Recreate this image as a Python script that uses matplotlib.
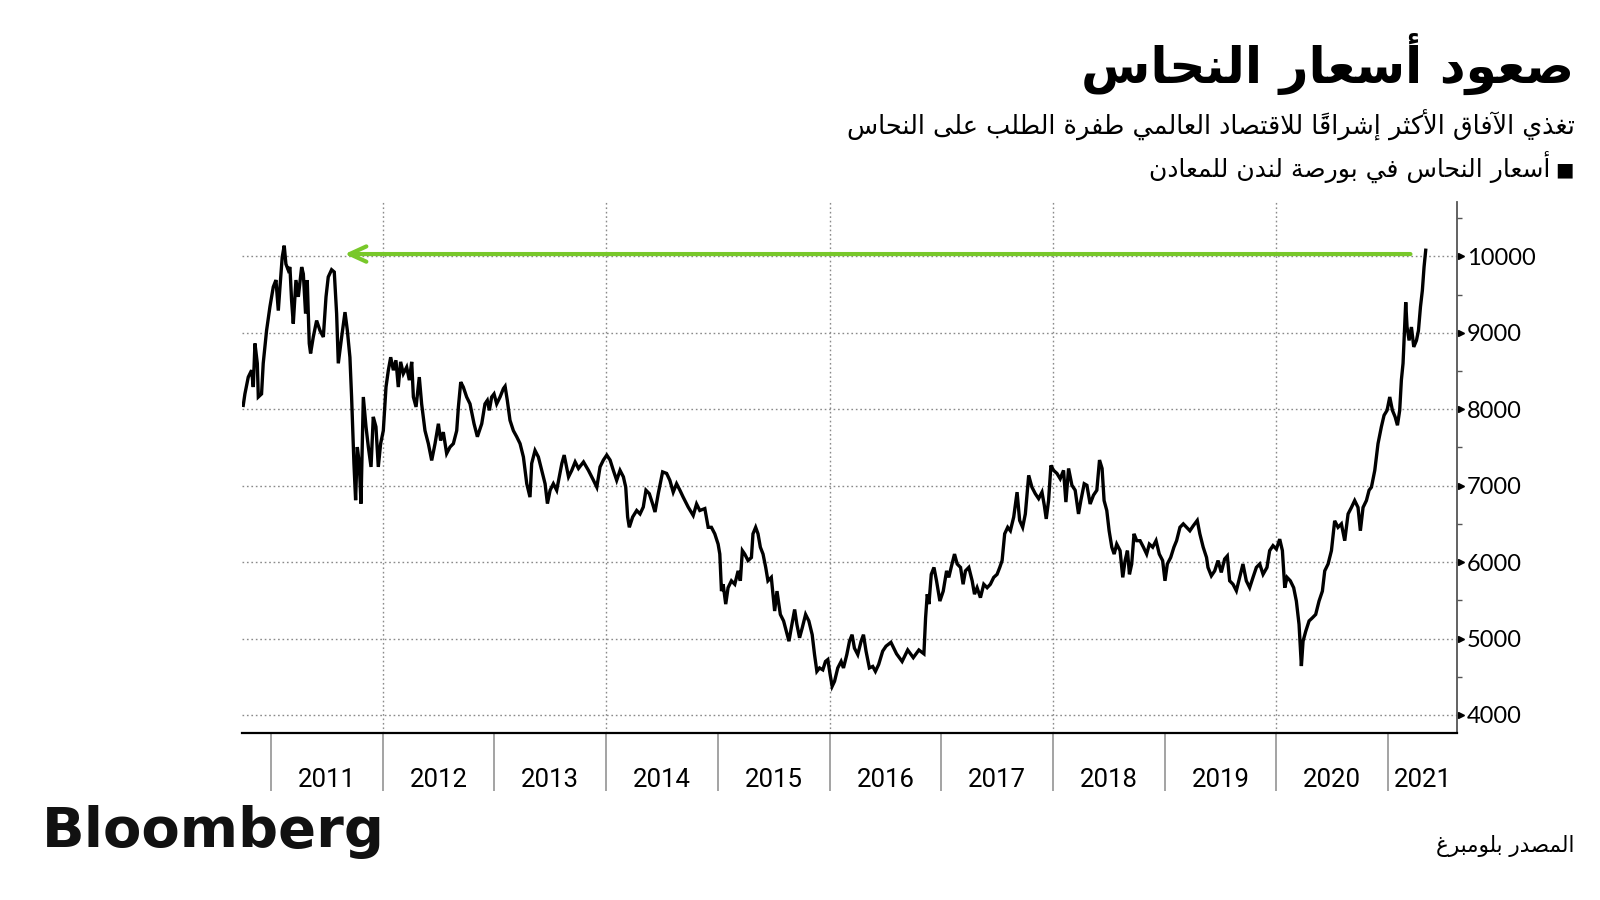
import numpy as np
import matplotlib
matplotlib.use('Agg')
import matplotlib.pyplot as plt
from matplotlib.ticker import FixedLocator, NullFormatter, FixedFormatter

# LME copper, decimal year -> USD/t
dates = [2010.752, 2010.767, 2010.797, 2010.827, 2010.842, 2010.857, 2010.878, 2010.887, 2010.916, 2010.931,
         2010.961, 2010.991, 2011.021, 2011.045, 2011.066, 2011.081, 2011.101, 2011.119, 2011.134, 2011.155,
         2011.170, 2011.185, 2011.200, 2011.224, 2011.245, 2011.275, 2011.290, 2011.310, 2011.325, 2011.343,
         2011.355, 2011.379, 2011.409, 2011.439, 2011.469, 2011.493, 2011.513, 2011.543, 2011.567, 2011.588,
         2011.603, 2011.633, 2011.663, 2011.684, 2011.707, 2011.722, 2011.743, 2011.758, 2011.773, 2011.791,
         2011.806, 2011.827, 2011.851, 2011.872, 2011.896, 2011.916, 2011.940, 2011.961, 2011.982, 2012.006,
         2012.030, 2012.051, 2012.072, 2012.096, 2012.119, 2012.140, 2012.161, 2012.185, 2012.215, 2012.239,
         2012.260, 2012.275, 2012.299, 2012.328, 2012.349, 2012.379, 2012.409, 2012.439, 2012.469, 2012.499,
         2012.519, 2012.543, 2012.573, 2012.603, 2012.633, 2012.663, 2012.678, 2012.699, 2012.722, 2012.752,
         2012.782, 2012.818, 2012.848, 2012.887, 2012.916, 2012.937, 2012.955, 2012.976, 2012.997, 2013.021,
         2013.051, 2013.081, 2013.096, 2013.116, 2013.140, 2013.170, 2013.200, 2013.230, 2013.260, 2013.290,
         2013.319, 2013.334, 2013.364, 2013.394, 2013.424, 2013.454, 2013.475, 2013.499, 2013.528, 2013.558,
         2013.604, 2013.625, 2013.664, 2013.693, 2013.723, 2013.753, 2013.798, 2013.842, 2013.887, 2013.917,
         2013.946, 2013.976, 2014.006, 2014.036, 2014.065, 2014.095, 2014.125, 2014.155, 2014.176, 2014.193,
         2014.208, 2014.238, 2014.274, 2014.304, 2014.333, 2014.357, 2014.387, 2014.417, 2014.438, 2014.467,
         2014.506, 2014.542, 2014.571, 2014.601, 2014.631, 2014.661, 2014.690, 2014.735, 2014.780, 2014.810,
         2014.839, 2014.884, 2014.914, 2014.943, 2014.973, 2015.003, 2015.018, 2015.033, 2015.048, 2015.071,
         2015.092, 2015.122, 2015.152, 2015.182, 2015.202, 2015.220, 2015.241, 2015.271, 2015.301, 2015.315,
         2015.339, 2015.360, 2015.381, 2015.405, 2015.429, 2015.449, 2015.479, 2015.509, 2015.530, 2015.560,
         2015.589, 2015.613, 2015.637, 2015.658, 2015.688, 2015.708, 2015.732, 2015.756, 2015.786, 2015.815,
         2015.845, 2015.866, 2015.887, 2015.911, 2015.940, 2015.964, 2015.985, 2016.006, 2016.024, 2016.045,
         2016.074, 2016.104, 2016.125, 2016.155, 2016.179, 2016.202, 2016.223, 2016.253, 2016.283, 2016.304,
         2016.327, 2016.357, 2016.387, 2016.411, 2016.440, 2016.476, 2016.506, 2016.550, 2016.600, 2016.650,
         2016.700, 2016.750, 2016.800, 2016.845, 2016.860, 2016.875, 2016.890, 2016.911, 2016.935, 2016.958,
         2016.988, 2017.018, 2017.048, 2017.068, 2017.089, 2017.119, 2017.143, 2017.173, 2017.196, 2017.217,
         2017.247, 2017.277, 2017.298, 2017.321, 2017.351, 2017.381, 2017.411, 2017.440, 2017.470, 2017.500,
         2017.524, 2017.545, 2017.568, 2017.595, 2017.619, 2017.649, 2017.679, 2017.702, 2017.729, 2017.753,
         2017.783, 2017.812, 2017.842, 2017.872, 2017.902, 2017.923, 2017.940, 2017.961, 2017.982, 2018.006,
         2018.036, 2018.065, 2018.095, 2018.116, 2018.140, 2018.170, 2018.199, 2018.229, 2018.250, 2018.280,
         2018.304, 2018.333, 2018.363, 2018.393, 2018.417, 2018.440, 2018.458, 2018.482, 2018.503, 2018.527,
         2018.548, 2018.571, 2018.601, 2018.625, 2018.646, 2018.667, 2018.685, 2018.705, 2018.726, 2018.750,
         2018.780, 2018.810, 2018.839, 2018.863, 2018.893, 2018.923, 2018.952, 2018.982, 2019.003, 2019.024,
         2019.054, 2019.083, 2019.107, 2019.137, 2019.167, 2019.196, 2019.226, 2019.256, 2019.292, 2019.315,
         2019.345, 2019.375, 2019.388, 2019.418, 2019.448, 2019.478, 2019.507, 2019.537, 2019.561, 2019.582,
         2019.612, 2019.642, 2019.672, 2019.701, 2019.731, 2019.761, 2019.791, 2019.821, 2019.851, 2019.881,
         2019.916, 2019.940, 2019.970, 2020.000, 2020.030, 2020.054, 2020.075, 2020.096, 2020.125, 2020.155,
         2020.179, 2020.203, 2020.224, 2020.239, 2020.263, 2020.293, 2020.322, 2020.352, 2020.382, 2020.412,
         2020.433, 2020.463, 2020.493, 2020.522, 2020.552, 2020.582, 2020.612, 2020.642, 2020.672, 2020.701,
         2020.731, 2020.752, 2020.776, 2020.806, 2020.830, 2020.851, 2020.881, 2020.910, 2020.940, 2020.964,
         2020.991, 2021.015, 2021.039, 2021.063, 2021.084, 2021.104, 2021.119, 2021.134, 2021.149, 2021.158,
         2021.170, 2021.188, 2021.209, 2021.230, 2021.254, 2021.272, 2021.290, 2021.307, 2021.322, 2021.337]

prices = [8050, 8200, 8420, 8510, 8290, 8860, 8600, 8160, 8200, 8600,
          9030, 9340, 9600, 9690, 9290, 9600, 9990, 10140, 9900, 9820,
          9860, 9420, 9120, 9690, 9470, 9860, 9770, 9250, 9690, 8860,
          8730, 8945, 9160, 9030, 8945, 9470, 9730, 9825, 9795, 9250,
          8600, 8945, 9270, 9030, 8680, 8160, 7290, 6810, 7505, 7290,
          6765, 8160, 7770, 7505, 7245, 7900, 7770, 7245, 7550, 7720,
          8290, 8510, 8680, 8510, 8640, 8290, 8620, 8465, 8550, 8380,
          8620, 8160, 8030, 8420, 8070, 7720, 7550, 7330, 7550, 7810,
          7590, 7700, 7420, 7505, 7550, 7720, 8030, 8355, 8290, 8160,
          8070, 7810, 7640, 7810, 8070, 8115, 7985, 8160, 8200, 8070,
          8160, 8270, 8300, 8115, 7855, 7720, 7640, 7550, 7375, 7025,
          6850, 7290, 7460, 7375, 7200, 7025, 6765, 6940, 7025, 6940,
          7290, 7400, 7115, 7200, 7310, 7225, 7310, 7200, 7070, 6980,
          7245, 7335, 7400, 7335, 7200, 7070, 7200, 7115, 6980, 6590,
          6455, 6590, 6675, 6630, 6720, 6940, 6895, 6760, 6655, 6895,
          7180, 7160, 7070, 6915, 7025, 6940, 6850, 6720, 6610, 6760,
          6675, 6700, 6455, 6455, 6370, 6235, 6105, 5620, 5710, 5450,
          5665, 5755, 5710, 5885, 5755, 6150, 6105, 6020, 6060, 6370,
          6455, 6370, 6195, 6105, 5930, 5755, 5800, 5360, 5620, 5315,
          5230, 5095, 4965, 5140, 5380, 5185, 5010, 5140, 5315, 5230,
          5050, 4790, 4570, 4615, 4590, 4700, 4725, 4525, 4375, 4440,
          4615, 4700, 4615, 4790, 4965, 5050, 4875, 4790, 4965, 5050,
          4835, 4615, 4635, 4570, 4660, 4835, 4900, 4950, 4800, 4700,
          4850, 4750, 4850, 4800, 5270, 5580, 5450, 5840, 5930, 5755,
          5490, 5620, 5885, 5800, 5930, 6105, 5975, 5930, 5710, 5885,
          5930, 5755, 5580, 5665, 5535, 5710, 5665, 5710, 5800, 5840,
          5930, 6020, 6370, 6455, 6410, 6590, 6915, 6545, 6455, 6630,
          7135, 6980, 6895, 6830, 6915, 6740, 6565, 6805, 7265, 7200,
          7160, 7090, 7200, 6785, 7225, 7005, 6940, 6630, 6805, 7025,
          7005, 6760, 6875, 6940, 7335, 7225, 6805, 6675, 6410, 6195,
          6105, 6235, 6150, 5800, 6020, 6150, 5840, 5975, 6370, 6280,
          6280, 6195, 6105, 6235, 6195, 6280, 6105, 6020, 5755, 5975,
          6060, 6195, 6280, 6455, 6500, 6455, 6410, 6475, 6545, 6370,
          6195, 6060, 5930, 5820, 5885, 6020, 5865, 6040, 6080, 5755,
          5710, 5625, 5800, 5975, 5755, 5665, 5800, 5930, 5975, 5840,
          5930, 6150, 6215, 6170, 6300, 6150, 5665, 5800, 5755, 5665,
          5490, 5185, 4640, 4965, 5095, 5230, 5270, 5315, 5490, 5620,
          5885, 5975, 6150, 6540, 6455, 6500, 6280, 6630, 6715, 6805,
          6715, 6410, 6715, 6805, 6940, 6980, 7200, 7550, 7770, 7920,
          7985, 8160, 7985, 7900, 7790, 7985, 8380, 8600, 9120, 9400,
          9075, 8900, 9075, 8815, 8900, 9030, 9340, 9555, 9860, 10080]

year_starts = [2011, 2012, 2013, 2014, 2015, 2016, 2017, 2018, 2019, 2020, 2021]
grid_years = [2012, 2014, 2016, 2018, 2020]
y_ticks = [4000, 5000, 6000, 7000, 8000, 9000, 10000]
arrow_from = 2021.2
arrow_to = 2011.66
arrow_level = 10030

title = 'صعود أسعار النحاس'
subtitle = 'تغذي الآفاق الأكثر إشراقاً للاقتصاد العالمي طفرة الطلب على النحاس'
legend_label = 'أسعار النحاس في بورصة لندن للمعادن'
source = 'المصدر بلومبرغ'

# --- tiny Arabic shaper (matplotlib has no shaping / bidi) ---
FORMS = {'ء': (0xFE80, 1), 'آ': (0xFE81, 2), 'أ': (0xFE83, 2), 'ؤ': (0xFE85, 2), 'إ': (0xFE87, 2),
         'ئ': (0xFE89, 4), 'ا': (0xFE8D, 2), 'ب': (0xFE8F, 4), 'ة': (0xFE93, 2), 'ت': (0xFE95, 4),
         'ث': (0xFE99, 4), 'ج': (0xFE9D, 4), 'ح': (0xFEA1, 4), 'خ': (0xFEA5, 4), 'د': (0xFEA9, 2),
         'ذ': (0xFEAB, 2), 'ر': (0xFEAD, 2), 'ز': (0xFEAF, 2), 'س': (0xFEB1, 4), 'ش': (0xFEB5, 4),
         'ص': (0xFEB9, 4), 'ض': (0xFEBD, 4), 'ط': (0xFEC1, 4), 'ظ': (0xFEC5, 4), 'ع': (0xFEC9, 4),
         'غ': (0xFECD, 4), 'ف': (0xFED1, 4), 'ق': (0xFED5, 4), 'ك': (0xFED9, 4), 'ل': (0xFEDD, 4),
         'م': (0xFEE1, 4), 'ن': (0xFEE5, 4), 'ه': (0xFEE9, 4), 'و': (0xFEED, 2), 'ى': (0xFEEF, 2),
         'ي': (0xFEF1, 4)}
LAM_ALEF = {'آ': 0xFEF5, 'أ': 0xFEF7, 'إ': 0xFEF9, 'ا': 0xFEFB}


def is_mark(c):
    return '\u064b' <= c <= '\u0652'


def ar(text):
    toks = []
    i = 0
    while i < len(text):
        if text[i] == 'ل' and i + 1 < len(text) and text[i + 1] in LAM_ALEF:
            toks.append(('LA', text[i + 1]))
            i += 2
        else:
            toks.append((text[i], None))
            i += 1

    def kind(t):
        if t[0] == 'LA':
            return 2
        if is_mark(t[0]):
            return -1
        return FORMS.get(t[0], (0, 0))[1]

    out = []
    for k, t in enumerate(toks):
        kd = kind(t)
        if kd <= 0:
            out.append(t[0])
            continue
        p = k - 1
        while p >= 0 and kind(toks[p]) == -1:
            p -= 1
        q = k + 1
        while q < len(toks) and kind(toks[q]) == -1:
            q += 1
        prev_j = p >= 0 and kind(toks[p]) == 4
        next_j = kd == 4 and q < len(toks) and kind(toks[q]) >= 2
        if t[0] == 'LA':
            out.append(chr(LAM_ALEF[t[1]] + (1 if prev_j else 0)))
            continue
        base = FORMS[t[0]][0]
        if kd == 1:
            off = 0
        elif prev_j and next_j:
            off = 3
        elif next_j:
            off = 2
        elif prev_j:
            off = 1
        else:
            off = 0
        out.append(chr(base + off))
    clusters = []
    for c in out:
        if is_mark(c) and clusters:
            clusters[-1] += c
        else:
            clusters.append(c)
    return ''.join(reversed(clusters))


fig = plt.figure(figsize=(16, 9), dpi=100)
ax = fig.add_axes([242 / 1600, 1 - 733 / 900, (1457 - 242) / 1600, (733 - 202) / 900])

ax.plot(dates, prices, color='black', lw=2.4, solid_joinstyle='miter', zorder=3)

ax.set_xlim(2010.741, 2021.617)
ax.set_ylim(3764, 10711)

# grid
for yv in y_ticks:
    ax.axhline(yv, color='#8a8a8a', lw=1.0, ls=(0, (1.2, 2)), zorder=1)
for gy in grid_years:
    ax.axvline(gy, color='#8a8a8a', lw=1.0, ls=(0, (1.2, 2)), zorder=1)

# spines
for s in ['top', 'left']:
    ax.spines[s].set_visible(False)
ax.spines['bottom'].set_color('black')
ax.spines['bottom'].set_linewidth(1.6)
ax.spines['right'].set_color('#555555')
ax.spines['right'].set_linewidth(1.3)

# y axis on the right
ax.yaxis.tick_right()
ax.set_yticks(y_ticks)
ax.set_yticklabels([str(v) for v in y_ticks])
ax.yaxis.set_minor_locator(FixedLocator([v + 500 for v in y_ticks[:-1]] + [10500]))
ax.tick_params(axis='y', which='major', length=0, pad=7, labelsize=17, labelcolor='black')
ax.tick_params(axis='y', which='minor', length=3.5, width=1, color='#555555', direction='out')
for lab in ax.get_yticklabels():
    lab.set_fontfamily('Lato')
ax.plot([1.0035] * len(y_ticks), y_ticks, marker='>', ms=5, ls='none', color='black',
        transform=ax.get_yaxis_transform(), clip_on=False)

# x axis: separators at year starts, labels centred in each year
xmax = ax.get_xlim()[1]
centers = [y + 0.5 if y + 1 <= xmax else (y + xmax) / 2 for y in year_starts]
ax.set_xticks(year_starts)
ax.xaxis.set_major_formatter(NullFormatter())
ax.xaxis.set_minor_locator(FixedLocator(centers))
ax.xaxis.set_minor_formatter(FixedFormatter([str(y) for y in year_starts]))
ax.tick_params(axis='x', which='major', length=42, width=1.1, color='#8a8a8a', direction='out')
ax.tick_params(axis='x', which='minor', length=0, pad=25, labelsize=18.5)
for lab in ax.xaxis.get_minorticklabels():
    lab.set_fontfamily('Roboto')

# green arrow back to the 2011 high
ax.annotate('', xy=(arrow_to, arrow_level), xytext=(arrow_from, arrow_level),
            arrowprops=dict(arrowstyle='->,head_length=1.2,head_width=0.55', color='#78c82a',
                            lw=3, shrinkA=0, shrinkB=0), zorder=4)

# texts
fig.text(0.984, 0.908, ar(title), ha='right', va='baseline', fontsize=36.2,
         fontweight='bold', family='DejaVu Sans')
fig.text(0.984, 0.851, ar(subtitle), ha='right', va='baseline', fontsize=18.4, family='DejaVu Sans')
fig.text(0.969, 0.803, ar(legend_label), ha='right', va='baseline', fontsize=18, family='DejaVu Sans')
fig.text(0.978, 0.811, '■', ha='center', va='center', fontsize=14, family='DejaVu Sans')
fig.text(0.984, 0.053, ar(source), ha='right', va='baseline', fontsize=15.5, family='DejaVu Sans')
fig.text(0.026, 0.059, 'Bloomberg', ha='left', va='baseline', fontsize=40.3,
         fontweight='bold', family='DejaVu Sans', color='#111111')

fig.savefig('out.png', dpi=100, facecolor='white')
